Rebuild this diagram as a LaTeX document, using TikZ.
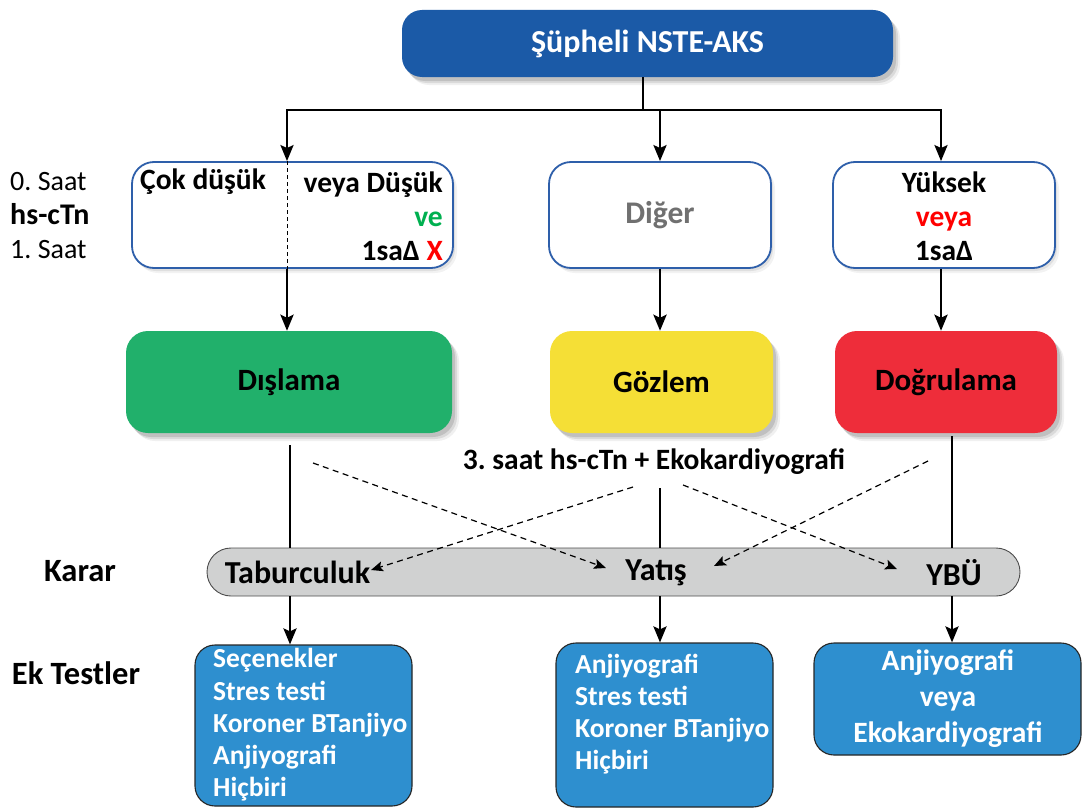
\documentclass[tikz,border=0pt]{standalone}
\usepackage{fontspec}
\setmainfont{Carlito}
\usetikzlibrary{arrows.meta,shadows}
\frenchspacing

\definecolor{titleblue}{RGB}{27,90,167}
\definecolor{edgeblue}{RGB}{46,95,170}
\definecolor{rulegreen}{RGB}{33,176,107}
\definecolor{obsyellow}{RGB}{245,223,54}
\definecolor{confred}{RGB}{238,45,58}
\definecolor{bargray}{RGB}{208,209,209}
\definecolor{testblue}{RGB}{46,143,207}
\definecolor{txtgreen}{RGB}{0,176,80}
\definecolor{txtred}{RGB}{255,0,0}
\definecolor{txtgray}{RGB}{112,112,112}

\tikzset{
  softshadow/.style={
    general shadow={shadow xshift=3pt,shadow yshift=-4pt,fill=black,opacity=.12},
    general shadow={shadow xshift=5pt,shadow yshift=-6pt,fill=black,opacity=.09},
    general shadow={shadow xshift=7pt,shadow yshift=-8pt,fill=black,opacity=.06}},
  lightshadow/.style={
    general shadow={shadow xshift=2pt,shadow yshift=-3pt,fill=black,opacity=.08},
    general shadow={shadow xshift=4pt,shadow yshift=-5pt,fill=black,opacity=.05}},
  bigtxt/.style={font=\fontsize{32.5}{36}\selectfont\bfseries},
  txt/.style={font=\fontsize{29.5}{34}\selectfont\bfseries, inner sep=0pt},
  bartxt/.style={font=\fontsize{32}{36}\selectfont\bfseries, inner sep=0pt},
  titlebox/.style={rounded corners=20pt, fill=titleblue, text=white, softshadow,
    font=\fontsize{32}{36}\selectfont\bfseries},
  levelbox/.style={rounded corners=22pt, draw=edgeblue, line width=1.8pt, fill=white,
    lightshadow},
  riskbox/.style={rounded corners=22pt, softshadow, font=\fontsize{31}{36}\selectfont\bfseries},
  decisionbar/.style={rounded corners=24pt, draw=black!70, line width=0.9pt, fill=bargray},
  testbox/.style={rounded corners=20pt, draw=black!85, line width=1.1pt, fill=testblue},
  testtxt/.style={font=\fontsize{27.5}{32.2}\selectfont\bfseries, text=white, inner sep=0pt},
  link/.style={line width=2.8pt},
  arr/.style={line width=2.8pt, -{Stealth[length=16pt,width=13pt,inset=3pt]}},
  dasharr/.style={line width=1.2pt, dash pattern=on 6pt off 4.5pt,
    -{Stealth[length=12pt,width=10pt,inset=2.5pt]}},
}

\begin{document}
\begin{tikzpicture}[x=1pt,y=-1pt]
\useasboundingbox (0,0) rectangle (1083,808);

% top node
\node[titlebox, minimum width=491pt, minimum height=67pt] (top) at (647.5,43.5) {Şüpheli NSTE-AKS};

% first level: hs-cTn categories
\node[levelbox, minimum width=321pt, minimum height=106pt] (low) at (292.5,215) {};
\node[levelbox, minimum width=222pt, minimum height=106pt] (other) at (660,215) {};
\node[levelbox, minimum width=222pt, minimum height=106pt] (high) at (944,215) {};

\coordinate (split) at (287,0);
\draw[line width=0.9pt, dash pattern=on 4pt off 3pt] (split |- low.north) -- (split |- low.south);

\node[txt, anchor=west] (verylow) at (140,182) {Çok düşük};
\node[txt, anchor=east, align=right] (lowtxt) at (443,216)
  {veya Düşük\\ \textcolor{txtgreen}{ve}\\ 1saΔ \textcolor{txtred}{X}};
\node[txt, text=txtgray, font=\fontsize{31.5}{36}\selectfont\bfseries] (othertxt) at (other.center) {Diğer};
\node[txt, align=center] (hightxt) at (944,216)
  {Yüksek\\ \textcolor{txtred}{veya}\\ 1saΔ};

% row labels on the left
\node[inner sep=0pt, anchor=west, align=left, font=\fontsize{28}{34}\selectfont] (hours) at (10,216)
  {0. Saat\\ {\fontsize{30}{34}\selectfont\bfseries hs-cTn}\\ 1. Saat};

% second level: risk groups
\node[riskbox, fill=rulegreen, minimum width=326pt, minimum height=102pt] (ruleout) at (289,382) {Dışlama};
\node[riskbox, fill=obsyellow, minimum width=223pt, minimum height=102pt] (observe) at (661.5,382) {Gözlem};
\node[riskbox, fill=confred, minimum width=222pt, minimum height=102pt] (rulein) at (946,382) {Doğrulama};

% decision bar
\node[decisionbar, minimum width=813pt, minimum height=48pt] (bar) at (613.5,572) {};
\node[bartxt] (discharge) at (297.5,572) {Taburculuk};
\node[bartxt] (admit) at (656,573) {Yatış};
\node[bartxt] (icu) at (954,573) {YBÜ};

\node[bigtxt, inner sep=0pt] (decision) at (80,571) {Karar};
\node[bigtxt, inner sep=0pt] (extra) at (76,673) {Ek Testler};

% additional tests
\node[testbox, minimum width=217pt, minimum height=161pt] (tests1) at (303.5,725.5) {};
\node[testbox, minimum width=217pt, minimum height=164pt] (tests2) at (664.5,725) {};
\node[testbox, minimum width=267pt, minimum height=112pt] (tests3) at (947.5,699) {};

\node[testtxt, anchor=west, align=left] (list1) at (213,725)
  {Seçenekler\\ Stres testi\\ Koroner BTanjiyo\\ Anjiyografi\\ Hiçbiri};
\node[testtxt, anchor=west, align=left] (list2) at (575,714)
  {Anjiyografi\\ Stres testi\\ Koroner BTanjiyo\\ Hiçbiri};
\node[testtxt, align=center, font=\fontsize{29.5}{36}\selectfont\bfseries] (list3) at (948,699)
  {Anjiyografi\\ veya\\ Ekokardiyografi};

% third-hour test caption
\node[txt] (third) at (654,462) {3. saat hs-cTn + Ekokardiyografi};

% branching from the top node
\coordinate (busL) at (287,110);
\coordinate (busM) at (660,110);
\coordinate (busR) at (941,110);
\draw[link] (top.south -| 643,0) -- (643,110);
\draw[link, line cap=rect] (busL) -- (busR);
\draw[arr] (busL) -- (busL |- low.north);
\draw[arr] (busM) -- (other.north);
\draw[arr] (busR) -- (busR |- high.north);

% categories to risk groups
\draw[arr] (split |- low.south) -- (split |- ruleout.north);
\draw[arr] (other.south) -- (other.south |- observe.north);
\draw[arr] (busR |- high.south) -- (busR |- rulein.north);

% risk groups to decisions
\coordinate (dropL) at (290,445);
\coordinate (dropM) at (660,488);
\coordinate (dropR) at (952,436);
\draw[link] (dropL) -- (dropL |- bar.north);
\draw[link] (dropM) -- (dropM |- bar.north);
\draw[link] (dropR) -- (dropR |- bar.north);

% crossing dashed alternatives
\coordinate (d1s) at (313,463);
\coordinate (d1e) at (606,568);
\coordinate (d2s) at (633,487);
\coordinate (d2e) at (371,570);
\coordinate (d3s) at (683,485);
\coordinate (d3e) at (897,569);
\coordinate (d4s) at (928,461);
\coordinate (d4e) at (714,566);
\draw[dasharr] (d1s) -- (d1e);
\draw[dasharr] (d2s) -- (d2e);
\draw[dasharr] (d3s) -- (d3e);
\draw[dasharr] (d4s) -- (d4e);

% decisions to additional tests
\draw[arr] (dropL |- bar.south) -- (dropL |- tests1.north);
\draw[arr] (dropM |- bar.south) -- (dropM |- tests2.north);
\draw[arr] (dropR |- bar.south) -- (dropR |- tests3.north);
\end{tikzpicture}
\end{document}
